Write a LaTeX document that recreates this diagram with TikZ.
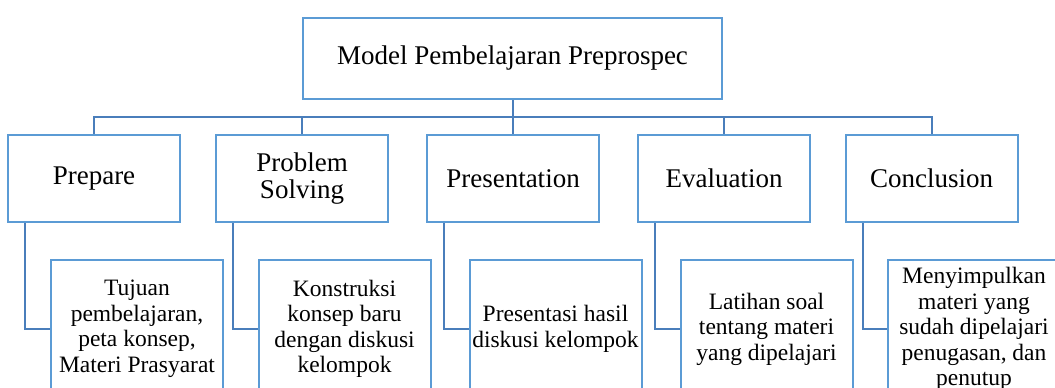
\documentclass[tikz,border=0pt]{standalone}
\usepackage{fontspec}
\setmainfont{Liberation Serif}
\definecolor{boxblue}{HTML}{5B9BD5}
\definecolor{linkblue}{HTML}{4A7EBB}
\tikzset{
  topbox/.style = {
    draw=boxblue, line width=2pt, minimum width=419pt, minimum height=81pt,
    inner sep=0pt, align=center, font=\fontsize{27}{29}\selectfont
  },
  stagebox/.style = {
    draw=boxblue, line width=2pt, minimum width=172pt, minimum height=87pt,
    inner sep=0pt, align=center, font=\fontsize{27}{27.5}\selectfont
  },
  detailbox/.style = {
    stagebox, minimum height=138pt, font=\fontsize{23.5}{25.5}\selectfont
  },
  link/.style = {
    draw=linkblue, line width=2pt
  },
}

\begin{document}
\begin{tikzpicture}[x=1pt,y=1pt]
  \pgfmathsetmacro{\stagey}{-178.5};
  \pgfmathsetmacro{\detaily}{-329};
  \pgfmathsetmacro{\stemshift}{18};
  \useasboundingbox (0,0) rectangle (1055,-388);
  % model
  \node[topbox] (model) at (512.5,-58.5) {Model Pembelajaran Preprospec};
  \coordinate (bus) at (0,-117);
  % stages
  \foreach \n/\x/\txt in {1/94/Prepare, 2/302/{Problem\\Solving}, 3/513/Presentation, 4/724/Evaluation, 5/931.5/Conclusion} {%
    \node[stagebox] (stage\n) at (\x,\stagey) {\txt};
    \draw[link] (model.south) -- (model.south |- bus) -| (stage\n.north);
  }
  % details
  \foreach \n/\x/\txt in {%
      1/137/{Tujuan\\pembelajaran,\\peta konsep,\\Materi Prasyarat},
      2/344.5/{Konstruksi\\konsep baru\\dengan diskusi\\kelompok},
      3/555.5/{Presentasi hasil\\diskusi kelompok},
      4/766.5/{Latihan soal\\tentang materi\\yang dipelajari},
      5/974/{Menyimpulkan\\materi yang\\sudah dipelajari\\penugasan, dan\\penutup}} {%
    \node[detailbox] (detail\n) at (\x,\detaily) {\txt};
    \draw[link] ([xshift=\stemshift pt]stage\n.south west) |- (detail\n.west);
  }
\end{tikzpicture}
\end{document}
